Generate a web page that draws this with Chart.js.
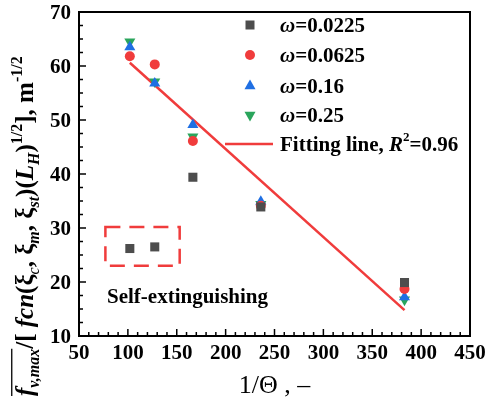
<!DOCTYPE html>
<html>
<head>
<meta charset="utf-8">
<script src="https://cdn.jsdelivr.net/npm/chart.js@4.4.1/dist/chart.umd.min.js"></script>
<style>
  body { margin: 0; background: #fff; }
  #wrap { width: 485px; height: 402px; }
</style>
</head>
<body>
<div id="wrap"><canvas id="chart" width="485" height="402"></canvas></div>
<script>
const xVals = [102, 127.5, 166.5, 236, 383];
const w0225 = [26.2, 26.5, 39.4, 33.9, 19.9];
const w0625 = [61.8, 60.3, 46.1, 34.1, 18.7];
const w016 = [63.5, 56.8, 49.1, 34.9, 17.2];
const w025 = [64.5, 57.1, 46.9, 34.4, 16.7];
const fitX = [102, 383];
const fitY = [60.6, 14.8];
const selfBoxX = [77, 153];
const selfBoxY = [23, 30.2];

const serif = 'Liberation Serif, Times New Roman, serif';
const grey = '#4d4d4d', red = '#f03c3c', blue = '#1f6fe3', green = '#2aa55c';

function pts(ys) {
  return xVals.map((x, i) => ({ x: x, y: ys[i] }));
}

// frame, inward ticks, boxes, legend, axis titles
const extras = {
  id: 'extras',
  beforeDatasetsDraw(chart) {
    const ctx = chart.ctx;
    const x = chart.scales.x, y = chart.scales.y;
    ctx.save();
    ctx.strokeStyle = red;
    ctx.lineWidth = 2.5;
    ctx.setLineDash([15, 9]);
    const l = x.getPixelForValue(selfBoxX[0]), r = x.getPixelForValue(selfBoxX[1]);
    const t = y.getPixelForValue(selfBoxY[1]), b = y.getPixelForValue(selfBoxY[0]);
    ctx.strokeRect(l, t, r - l, b - t);
    ctx.restore();
  },
  afterDraw(chart) {
    const ctx = chart.ctx;
    const a = chart.chartArea;
    const x = chart.scales.x, y = chart.scales.y;
    ctx.save();
    ctx.strokeStyle = '#000';
    ctx.lineWidth = 2;
    ctx.strokeRect(a.left, a.top, a.right - a.left, a.bottom - a.top);
    ctx.lineWidth = 1.5;
    // x ticks
    for (let v = 50; v <= 450; v += 10) {
      const px = x.getPixelForValue(v);
      const len = v % 50 === 0 ? 7 : 4;
      ctx.beginPath(); ctx.moveTo(px, a.bottom); ctx.lineTo(px, a.bottom - len); ctx.stroke();
    }
    // y ticks
    for (let v = 10; v <= 70; v += 2.5) {
      const py = y.getPixelForValue(v);
      const len = v % 10 === 0 ? 7 : 4;
      ctx.beginPath(); ctx.moveTo(a.left, py); ctx.lineTo(a.left + len, py); ctx.stroke();
    }

    // Self-extinguishing label
    ctx.fillStyle = '#000';
    ctx.font = 'bold 21px ' + serif;
    ctx.textBaseline = 'alphabetic';
    ctx.fillText('Self-extinguishing', 107, 303);

    // legend
    const lx = 250, tx = 280;
    const rows = [
      { label: '0.0225', color: grey, shape: 'rect', y: 25 },
      { label: '0.0625', color: red, shape: 'circle', y: 55 },
      { label: '0.16', color: blue, shape: 'up', y: 86 },
      { label: '0.25', color: green, shape: 'down', y: 115 }
    ];
    rows.forEach(row => {
      ctx.fillStyle = row.color;
      ctx.beginPath();
      if (row.shape === 'rect') {
        ctx.rect(lx - 4.5, row.y - 4.5, 9, 9);
      } else if (row.shape === 'circle') {
        ctx.arc(lx, row.y, 5, 0, Math.PI * 2);
      } else if (row.shape === 'up') {
        ctx.moveTo(lx, row.y - 6.4); ctx.lineTo(lx + 5.5, row.y + 3.2); ctx.lineTo(lx - 5.5, row.y + 3.2);
      } else {
        ctx.moveTo(lx, row.y + 6.4); ctx.lineTo(lx + 5.5, row.y - 3.2); ctx.lineTo(lx - 5.5, row.y - 3.2);
      }
      ctx.fill();
      ctx.fillStyle = '#000';
      ctx.font = 'italic bold 21px ' + serif;
      ctx.fillText('ω', tx, row.y + 7);
      const w = ctx.measureText('ω').width;
      ctx.font = 'bold 21px ' + serif;
      ctx.fillText('=' + row.label, tx + w, row.y + 7);
    });
    ctx.strokeStyle = red;
    ctx.lineWidth = 2.5;
    ctx.beginPath(); ctx.moveTo(225, 144); ctx.lineTo(273, 144); ctx.stroke();
    let cx = tx;
    ctx.fillStyle = '#000';
    ctx.font = 'bold 21px ' + serif;
    ctx.fillText('Fitting line, ', cx, 151); cx += ctx.measureText('Fitting line, ').width;
    ctx.font = 'italic bold 21px ' + serif;
    ctx.fillText('R', cx, 151); cx += ctx.measureText('R').width;
    ctx.font = 'bold 13px ' + serif;
    ctx.fillText('2', cx, 141); cx += ctx.measureText('2').width;
    ctx.font = 'bold 21px ' + serif;
    ctx.fillText('=0.96', cx, 151);

    // x title
    ctx.font = '26px ' + serif;
    ctx.textAlign = 'center';
    ctx.fillText('1/Θ , –', (a.left + a.right) / 2, 393);
    ctx.textAlign = 'left';

    // y title (rotated)
    ctx.translate(33, 396);
    ctx.rotate(-Math.PI / 2);
    const big = 25, small = 16;
    const parts = [
      ['f', 'bi', 0], ['v,max', 'bi', 1], ['/[ ', 'b', 0], ['fcn', 'bi', 0], ['(', 'b', 0],
      ['ξ', 'b', 0], ['c', 'i', 1], [', ξ', 'b', 0], ['m', 'bi', 1],
      [', ξ', 'b', 0], ['st', 'bi', 1], [')(', 'b', 0], ['L', 'bi', 0],
      ['H', 'bi', 1], [')', 'b', 0], ['1/2', 'b', 2], ['], m', 'b', 0], ['-1/2', 'b', 2]
    ];
    let px = 0;
    parts.forEach((p, i) => {
      const size = p[2] === 0 ? big : small;
      const style = (p[1].indexOf('i') >= 0 ? 'italic ' : '') + (p[1].indexOf('b') >= 0 ? 'bold ' : '');
      ctx.font = style + size + 'px ' + serif;
      const dy = p[2] === 1 ? 6 : (p[2] === 2 ? -11 : 0);
      ctx.fillText(p[0], px, dy);
      const w = ctx.measureText(p[0]).width;
      if (i === 1) {
        ctx.lineWidth = 1.3;
        ctx.strokeStyle = '#000';
        ctx.beginPath(); ctx.moveTo(0, -big * 0.85); ctx.lineTo(px + w, -big * 0.85); ctx.stroke();
      }
      px += w;
    });
    ctx.restore();
  }
};

new Chart(document.getElementById('chart'), {
  type: 'scatter',
  data: {
    datasets: [
      { label: 'ω=0.0225', data: pts(w0225), backgroundColor: grey, borderWidth: 0, pointStyle: 'rect', pointRadius: 6.4 },
      { label: 'ω=0.0625', data: pts(w0625), backgroundColor: red, borderWidth: 0, pointStyle: 'circle', pointRadius: 5 },
      { label: 'ω=0.16', data: pts(w016), backgroundColor: blue, borderWidth: 0, pointStyle: 'triangle', pointRadius: 6.4 },
      { label: 'ω=0.25', data: pts(w025), backgroundColor: green, borderWidth: 0, pointStyle: 'triangle', rotation: 180, pointRadius: 6.4 },
      { label: 'Fitting line', data: fitX.map((x, i) => ({ x: x, y: fitY[i] })), showLine: true,
        borderColor: red, borderWidth: 2.5, pointRadius: 0 }
    ]
  },
  options: {
    responsive: false,
    animation: false,
    layout: { padding: { top: 12, right: 15, left: 0, bottom: 0 } },
    plugins: { legend: { display: false }, tooltip: { enabled: false } },
    scales: {
      x: {
        type: 'linear', min: 50, max: 450,
        grid: { display: false, drawTicks: false },
        border: { display: false },
        ticks: { stepSize: 50, padding: 5, color: '#000', maxRotation: 0,
          font: { family: serif, weight: 'bold', size: 21 } },
        afterFit(s) { s.height = 66; s.paddingLeft = 0; s.paddingRight = 0; }
      },
      y: {
        type: 'linear', min: 10, max: 70,
        grid: { display: false, drawTicks: false },
        border: { display: false },
        ticks: { stepSize: 10, padding: 8, labelOffset: 2, color: '#000',
          font: { family: serif, weight: 'bold', size: 21 } },
        afterFit(s) { s.width = 79; s.paddingTop = 0; s.paddingBottom = 0; }
      }
    }
  },
  plugins: [extras]
});
</script>
</body>
</html>
